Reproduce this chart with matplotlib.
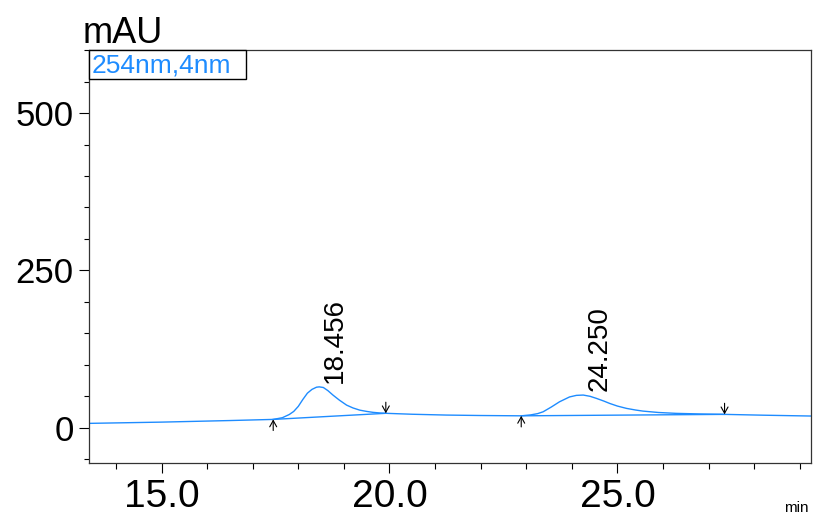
import numpy as np
import matplotlib.pyplot as plt
from matplotlib.ticker import MultipleLocator, FormatStrFormatter
from matplotlib.patches import Rectangle

plt.rcParams['font.family'] = ['Liberation Sans', 'DejaVu Sans']

# chromatogram trace (min, mAU)
time = [13.4, 15.0, 16.5, 17.45, 17.65, 17.8, 17.9, 18.0, 18.1, 18.2, 18.3, 18.4,
        18.46, 18.55, 18.65, 18.76, 18.9, 19.06, 19.2, 19.35, 19.5, 19.64, 19.8,
        19.92, 20.5, 21.25, 22.0, 22.89, 23.1, 23.25, 23.37, 23.55, 23.73, 23.95,
        24.1, 24.25, 24.4, 24.54, 24.7, 24.83, 25.0, 25.2, 25.4, 25.56, 25.9,
        26.29, 26.8, 27.35, 28.2, 29.3]
signal = [7.0, 9.0, 11.5, 13.3, 16, 21, 26, 34, 45, 55, 61, 64.5,
          65, 64, 59, 52, 44, 36, 31.5, 28, 26, 24.5, 23.5,
          23, 21.5, 20.2, 19.5, 19, 20.5, 22.5, 25.4, 33, 41.3, 49,
          51.5, 52, 50, 46.7, 42.5, 38.7, 34.5, 30.8, 28.2, 26.5, 24.3,
          22.9, 22, 21.3, 20, 18.6]

# integration baselines: start / end of each peak
peak_rt = [18.456, 24.250]
peak_apex = [65, 52]
peak_start = [(17.45, 13.3), (22.89, 19.0)]
peak_end = [(19.92, 23.0), (27.35, 21.3)]

blue = '#1e8cff'
arrow = dict(arrowstyle='->,head_length=0.45,head_width=0.25',
             lw=0.8, color='black', shrinkA=0, shrinkB=0)

fig = plt.figure(figsize=(8.13, 5.17), dpi=100)
ax = fig.add_axes([0.1095, 0.105, 0.8877, 0.798])

ax.plot(time, signal, color=blue, lw=1.0)
for s, e in zip(peak_start, peak_end):
    ax.plot([s[0], e[0]], [s[1], e[1]], color=blue, lw=1.0)
    ax.annotate('', xy=s, xytext=(0, -8), textcoords='offset points', arrowprops=arrow)
    ax.annotate('', xy=e, xytext=(0, 8), textcoords='offset points', arrowprops=arrow)

for rt, h in zip(peak_rt, peak_apex):
    ax.annotate('%.3f' % rt, xy=(rt, h), xytext=(16, 4), textcoords='offset pixels',
                rotation=90, ha='center', va='bottom', fontsize=20)

ax.set_xlim(13.41, 29.24)
ax.set_ylim(-55.5, 600)
ax.xaxis.set_major_locator(MultipleLocator(5))
ax.xaxis.set_minor_locator(MultipleLocator(1))
ax.xaxis.set_major_formatter(FormatStrFormatter('%.1f'))
ax.yaxis.set_major_locator(MultipleLocator(250))
ax.yaxis.set_minor_locator(MultipleLocator(50))

ax.tick_params(axis='x', which='major', length=7, width=0.8, labelsize=28, pad=5)
ax.tick_params(axis='x', which='minor', length=4.5, width=0.8)
ax.tick_params(axis='y', which='major', length=7, width=0.8, labelsize=25, pad=4)
ax.tick_params(axis='y', which='minor', length=3.5, width=0.8)
for sp in ax.spines.values():
    sp.set_linewidth(0.9)
    sp.set_color('#333333')

# channel box in the corner
ax.add_patch(Rectangle((0, 0.9297), 0.2175, 0.0703, transform=ax.transAxes,
                       facecolor='white', edgecolor='black', lw=1.0,
                       zorder=5, clip_on=False))
ax.text(0.003, 0.963, '254nm,4nm', transform=ax.transAxes, color=blue,
        fontsize=19, va='center', ha='left', zorder=6)

fig.text(0.101, 0.917, 'mAU', fontsize=26, va='baseline', ha='left')
fig.text(0.995, 0.004, 'min', fontsize=11, va='bottom', ha='right')

fig.savefig('out.png', dpi=100)
